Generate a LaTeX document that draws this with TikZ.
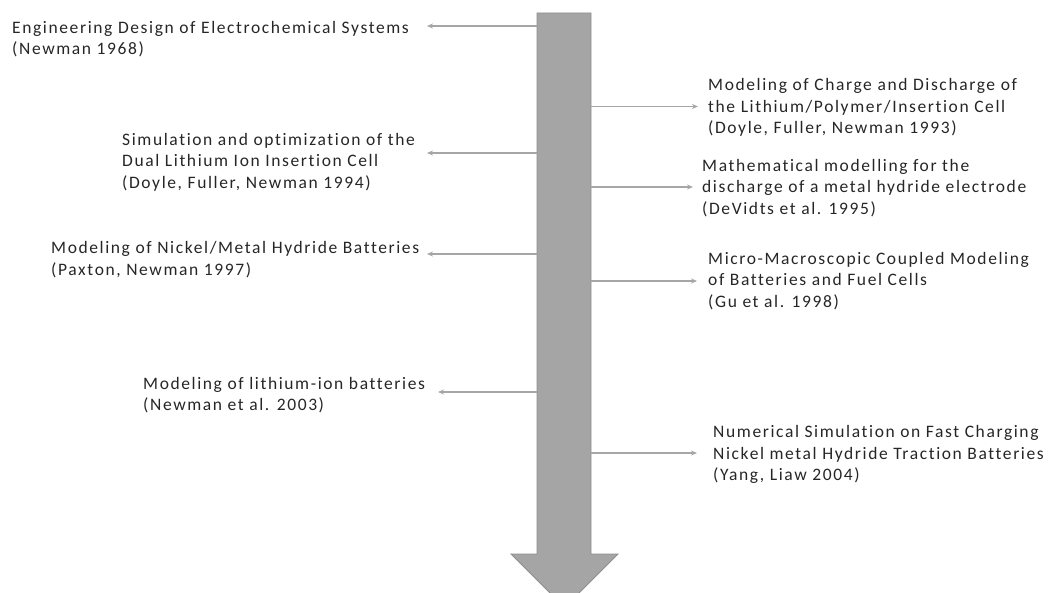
\documentclass[tikz,border=0pt]{standalone}
\usepackage{fontspec}
\setmainfont{Carlito}[LetterSpace=9.2,Ligatures=NoCommon]
\usetikzlibrary{arrows.meta}

\definecolor{shaftgray}{HTML}{A5A5A5}
\definecolor{rimgray}{HTML}{8E8E8E}
\definecolor{linkgray}{HTML}{A6A6A6}
\definecolor{inkgray}{HTML}{262626}

\begin{document}
\begin{tikzpicture}[x=1pt,y=-1pt,
    entry/.style={anchor=base west, inner sep=0pt, align=left,
      font=\fontsize{17.5}{21.5}\selectfont, text=inkgray},
    link/.style={draw=linkgray, line width=1.4pt, -{Stealth[length=6pt,width=5pt]}}]
  \clip (0,0) rectangle (1048,593);

  % Time arrow running down the middle
  \filldraw[fill=shaftgray, draw=rimgray, line width=0.8pt]
    (537,13) -- (591,13) -- (591,554) -- (618,554) -- (564.5,607.5)
    -- (511,554) -- (537,554) -- cycle;
  \coordinate (shaftL) at (537,13);
  \coordinate (shaftR) at (591,13);

  % Left side papers (positions are the baseline of the last line)
  \node[entry] (e1968) at (12,55) {Engineering Design of Electrochemical Systems\\(Newman 1968)};
  \node[entry] (e1994) at (122,188.5) {Simulation and optimization of the\\Dual Lithium Ion Insertion Cell\\(Doyle, Fuller, Newman 1994)};
  \node[entry] (e1997) at (51,275.5) {Modeling of Nickel/Metal Hydride Batteries\\(Paxton, Newman 1997)};
  \node[entry] (e2003) at (143,410.5) {Modeling of lithium-ion batteries\\(Newman et al. 2003)};

  % Right side papers
  \node[entry] (e1993) at (708,134) {Modeling of Charge and Discharge of\\the Lithium/Polymer/Insertion Cell\\(Doyle, Fuller, Newman 1993)};
  \node[entry] (e1995) at (702,214.5) {Mathematical modelling for the\\discharge of a metal hydride electrode\\(DeVidts et al. 1995)};
  \node[entry] (e1998) at (708,307.5) {Micro-Macroscopic Coupled Modeling\\of Batteries and Fuel Cells\\(Gu et al. 1998)};
  \node[entry] (e2004) at (713,480.5) {Numerical Simulation on Fast Charging\\Nickel metal Hydride Traction Batteries\\(Yang, Liaw 2004)};

  % arrow tips next to each entry
  \coordinate (p1968) at (427,26);
  \coordinate (p1994) at (427,153);
  \coordinate (p1997) at (427,254);
  \coordinate (p2003) at (438,392);
  \coordinate (p1993) at (698,106.5);
  \coordinate (p1995) at (693,187);
  \coordinate (p1998) at (697,281);
  \coordinate (p2004) at (697,453);

  \foreach \yr in {1968,1994,1997,2003}
    \draw[link] (shaftL |- p\yr) -- (p\yr);
  \foreach \yr in {1993,1995,1998,2004}
    \draw[link] (shaftR |- p\yr) -- (p\yr);
\end{tikzpicture}
\end{document}
